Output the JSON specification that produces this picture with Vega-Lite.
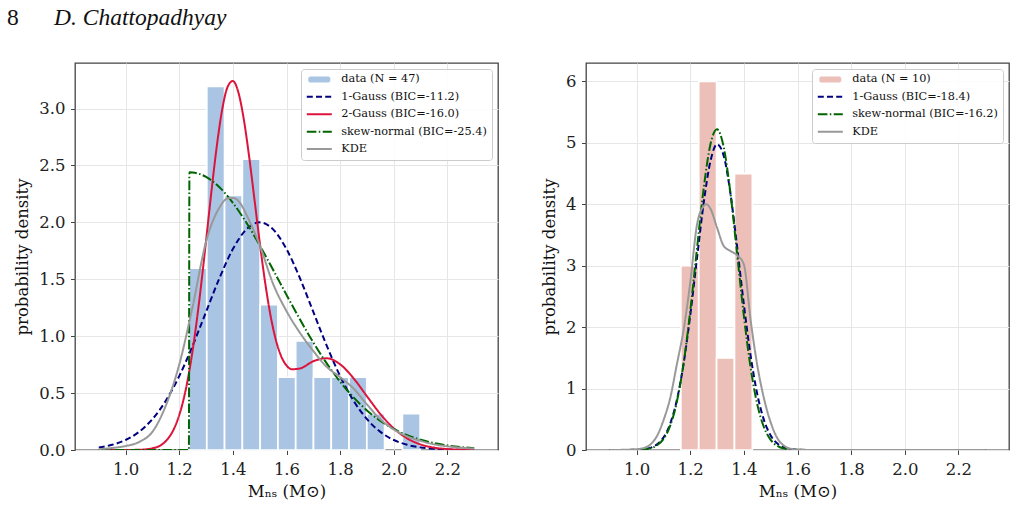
{
  "$schema": "https://vega.github.io/schema/vega-lite/v6.json",
  "background": "white",
  "padding": {"left": 7, "top": 4, "right": 5, "bottom": 5},
  "title": {
    "text": "8",
    "anchor": "start",
    "frame": "bounds",
    "font": "Liberation Serif",
    "fontSize": 23.5,
    "fontWeight": "normal",
    "color": "#111111",
    "baseline": "alphabetic",
    "dx": -7,
    "offset": -44
  },
  "resolve": {
    "scale": {"color": "independent", "strokeDash": "independent", "shape": "independent", "x": "independent", "y": "independent"},
    "legend": {"color": "independent", "strokeDash": "independent", "shape": "independent"}
  },
  "datasets": {
    "left_bins": [
      {"series": "data (N = 47)", "bin_start": 1.2365, "bin_end": 1.3028, "density": 1.598},
      {"series": "data (N = 47)", "bin_start": 1.3028, "bin_end": 1.3691, "density": 3.195},
      {"series": "data (N = 47)", "bin_start": 1.3691, "bin_end": 1.4354, "density": 2.237},
      {"series": "data (N = 47)", "bin_start": 1.4354, "bin_end": 1.5017, "density": 2.556},
      {"series": "data (N = 47)", "bin_start": 1.5017, "bin_end": 1.568, "density": 1.278},
      {"series": "data (N = 47)", "bin_start": 1.568, "bin_end": 1.6343, "density": 0.639},
      {"series": "data (N = 47)", "bin_start": 1.6343, "bin_end": 1.7006, "density": 0.959},
      {"series": "data (N = 47)", "bin_start": 1.7006, "bin_end": 1.7669, "density": 0.639},
      {"series": "data (N = 47)", "bin_start": 1.7669, "bin_end": 1.8332, "density": 0.639},
      {"series": "data (N = 47)", "bin_start": 1.8332, "bin_end": 1.8995, "density": 0.639},
      {"series": "data (N = 47)", "bin_start": 1.8995, "bin_end": 1.9658, "density": 0.32},
      {"series": "data (N = 47)", "bin_start": 2.0321, "bin_end": 2.0984, "density": 0.32}
    ],
    "left_curves": [
      {"series": "1-Gauss (BIC=-11.2)", "m": 0.9, "density": 0.0222},
      {"series": "1-Gauss (BIC=-11.2)", "m": 0.95, "density": 0.0456},
      {"series": "1-Gauss (BIC=-11.2)", "m": 1.0, "density": 0.0879},
      {"series": "1-Gauss (BIC=-11.2)", "m": 1.05, "density": 0.159},
      {"series": "1-Gauss (BIC=-11.2)", "m": 1.1, "density": 0.271},
      {"series": "1-Gauss (BIC=-11.2)", "m": 1.15, "density": 0.433},
      {"series": "1-Gauss (BIC=-11.2)", "m": 1.2, "density": 0.649},
      {"series": "1-Gauss (BIC=-11.2)", "m": 1.25, "density": 0.916},
      {"series": "1-Gauss (BIC=-11.2)", "m": 1.3, "density": 1.213},
      {"series": "1-Gauss (BIC=-11.2)", "m": 1.35, "density": 1.51},
      {"series": "1-Gauss (BIC=-11.2)", "m": 1.4, "density": 1.765},
      {"series": "1-Gauss (BIC=-11.2)", "m": 1.45, "density": 1.938},
      {"series": "1-Gauss (BIC=-11.2)", "m": 1.5, "density": 2.0},
      {"series": "1-Gauss (BIC=-11.2)", "m": 1.55, "density": 1.938},
      {"series": "1-Gauss (BIC=-11.2)", "m": 1.6, "density": 1.765},
      {"series": "1-Gauss (BIC=-11.2)", "m": 1.65, "density": 1.51},
      {"series": "1-Gauss (BIC=-11.2)", "m": 1.7, "density": 1.213},
      {"series": "1-Gauss (BIC=-11.2)", "m": 1.75, "density": 0.916},
      {"series": "1-Gauss (BIC=-11.2)", "m": 1.8, "density": 0.649},
      {"series": "1-Gauss (BIC=-11.2)", "m": 1.85, "density": 0.433},
      {"series": "1-Gauss (BIC=-11.2)", "m": 1.9, "density": 0.271},
      {"series": "1-Gauss (BIC=-11.2)", "m": 1.95, "density": 0.159},
      {"series": "1-Gauss (BIC=-11.2)", "m": 2.0, "density": 0.0879},
      {"series": "1-Gauss (BIC=-11.2)", "m": 2.05, "density": 0.0456},
      {"series": "1-Gauss (BIC=-11.2)", "m": 2.1, "density": 0.0222},
      {"series": "1-Gauss (BIC=-11.2)", "m": 2.15, "density": 0.0102},
      {"series": "1-Gauss (BIC=-11.2)", "m": 2.2, "density": 0.0044},
      {"series": "1-Gauss (BIC=-11.2)", "m": 2.25, "density": 0.0018},
      {"series": "1-Gauss (BIC=-11.2)", "m": 2.3, "density": 0.0007},

      {"series": "2-Gauss (BIC=-16.0)", "m": 0.9, "density": 0.0},
      {"series": "2-Gauss (BIC=-16.0)", "m": 0.95, "density": 0.0},
      {"series": "2-Gauss (BIC=-16.0)", "m": 1.0, "density": 0.0002},
      {"series": "2-Gauss (BIC=-16.0)", "m": 1.05, "density": 0.0021},
      {"series": "2-Gauss (BIC=-16.0)", "m": 1.1, "density": 0.0149},
      {"series": "2-Gauss (BIC=-16.0)", "m": 1.15, "density": 0.0788},
      {"series": "2-Gauss (BIC=-16.0)", "m": 1.18, "density": 0.1845},
      {"series": "2-Gauss (BIC=-16.0)", "m": 1.2, "density": 0.3063},
      {"series": "2-Gauss (BIC=-16.0)", "m": 1.22, "density": 0.4836},
      {"series": "2-Gauss (BIC=-16.0)", "m": 1.24, "density": 0.7266},
      {"series": "2-Gauss (BIC=-16.0)", "m": 1.26, "density": 1.0401},
      {"series": "2-Gauss (BIC=-16.0)", "m": 1.28, "density": 1.4166},
      {"series": "2-Gauss (BIC=-16.0)", "m": 1.3, "density": 1.837},
      {"series": "2-Gauss (BIC=-16.0)", "m": 1.32, "density": 2.2693},
      {"series": "2-Gauss (BIC=-16.0)", "m": 1.34, "density": 2.668},
      {"series": "2-Gauss (BIC=-16.0)", "m": 1.36, "density": 2.9883},
      {"series": "2-Gauss (BIC=-16.0)", "m": 1.38, "density": 3.188},
      {"series": "2-Gauss (BIC=-16.0)", "m": 1.4, "density": 3.2421},
      {"series": "2-Gauss (BIC=-16.0)", "m": 1.42, "density": 3.1465},
      {"series": "2-Gauss (BIC=-16.0)", "m": 1.44, "density": 2.9166},
      {"series": "2-Gauss (BIC=-16.0)", "m": 1.46, "density": 2.5896},
      {"series": "2-Gauss (BIC=-16.0)", "m": 1.48, "density": 2.2114},
      {"series": "2-Gauss (BIC=-16.0)", "m": 1.5, "density": 1.8268},
      {"series": "2-Gauss (BIC=-16.0)", "m": 1.52, "density": 1.4771},
      {"series": "2-Gauss (BIC=-16.0)", "m": 1.54, "density": 1.1875},
      {"series": "2-Gauss (BIC=-16.0)", "m": 1.56, "density": 0.9698},
      {"series": "2-Gauss (BIC=-16.0)", "m": 1.58, "density": 0.8247},
      {"series": "2-Gauss (BIC=-16.0)", "m": 1.6, "density": 0.7426},
      {"series": "2-Gauss (BIC=-16.0)", "m": 1.62, "density": 0.7091},
      {"series": "2-Gauss (BIC=-16.0)", "m": 1.65, "density": 0.7163},
      {"series": "2-Gauss (BIC=-16.0)", "m": 1.7, "density": 0.7799},
      {"series": "2-Gauss (BIC=-16.0)", "m": 1.75, "density": 0.8059},
      {"series": "2-Gauss (BIC=-16.0)", "m": 1.8, "density": 0.7527},
      {"series": "2-Gauss (BIC=-16.0)", "m": 1.85, "density": 0.6301},
      {"series": "2-Gauss (BIC=-16.0)", "m": 1.9, "density": 0.472},
      {"series": "2-Gauss (BIC=-16.0)", "m": 1.95, "density": 0.3164},
      {"series": "2-Gauss (BIC=-16.0)", "m": 2.0, "density": 0.1898},
      {"series": "2-Gauss (BIC=-16.0)", "m": 2.05, "density": 0.1019},
      {"series": "2-Gauss (BIC=-16.0)", "m": 2.1, "density": 0.0489},
      {"series": "2-Gauss (BIC=-16.0)", "m": 2.15, "density": 0.021},
      {"series": "2-Gauss (BIC=-16.0)", "m": 2.2, "density": 0.0081},
      {"series": "2-Gauss (BIC=-16.0)", "m": 2.25, "density": 0.0028},
      {"series": "2-Gauss (BIC=-16.0)", "m": 2.3, "density": 0.0009},

      {"series": "skew-normal (BIC=-25.4)", "m": 0.9, "density": 0.0},
      {"series": "skew-normal (BIC=-25.4)", "m": 1.0, "density": 0.0},
      {"series": "skew-normal (BIC=-25.4)", "m": 1.1, "density": 0.0},
      {"series": "skew-normal (BIC=-25.4)", "m": 1.2, "density": 0.0},
      {"series": "skew-normal (BIC=-25.4)", "m": 1.236, "density": 0.0},
      {"series": "skew-normal (BIC=-25.4)", "m": 1.238, "density": 2.44},
      {"series": "skew-normal (BIC=-25.4)", "m": 1.25, "density": 2.438},
      {"series": "skew-normal (BIC=-25.4)", "m": 1.3, "density": 2.399},
      {"series": "skew-normal (BIC=-25.4)", "m": 1.35, "density": 2.308},
      {"series": "skew-normal (BIC=-25.4)", "m": 1.4, "density": 2.171},
      {"series": "skew-normal (BIC=-25.4)", "m": 1.45, "density": 1.998},
      {"series": "skew-normal (BIC=-25.4)", "m": 1.5, "density": 1.799},
      {"series": "skew-normal (BIC=-25.4)", "m": 1.55, "density": 1.583},
      {"series": "skew-normal (BIC=-25.4)", "m": 1.6, "density": 1.363},
      {"series": "skew-normal (BIC=-25.4)", "m": 1.65, "density": 1.148},
      {"series": "skew-normal (BIC=-25.4)", "m": 1.7, "density": 0.945},
      {"series": "skew-normal (BIC=-25.4)", "m": 1.75, "density": 0.761},
      {"series": "skew-normal (BIC=-25.4)", "m": 1.8, "density": 0.6},
      {"series": "skew-normal (BIC=-25.4)", "m": 1.85, "density": 0.462},
      {"series": "skew-normal (BIC=-25.4)", "m": 1.9, "density": 0.348},
      {"series": "skew-normal (BIC=-25.4)", "m": 1.95, "density": 0.256},
      {"series": "skew-normal (BIC=-25.4)", "m": 2.0, "density": 0.185},
      {"series": "skew-normal (BIC=-25.4)", "m": 2.05, "density": 0.13},
      {"series": "skew-normal (BIC=-25.4)", "m": 2.1, "density": 0.0898},
      {"series": "skew-normal (BIC=-25.4)", "m": 2.15, "density": 0.0605},
      {"series": "skew-normal (BIC=-25.4)", "m": 2.2, "density": 0.0399},
      {"series": "skew-normal (BIC=-25.4)", "m": 2.25, "density": 0.0257},
      {"series": "skew-normal (BIC=-25.4)", "m": 2.3, "density": 0.0162},

      {"series": "KDE", "m": 0.9, "density": 0.008},
      {"series": "KDE", "m": 0.95, "density": 0.018},
      {"series": "KDE", "m": 1.0, "density": 0.035},
      {"series": "KDE", "m": 1.05, "density": 0.07},
      {"series": "KDE", "m": 1.1, "density": 0.16},
      {"series": "KDE", "m": 1.15, "density": 0.39},
      {"series": "KDE", "m": 1.2, "density": 0.75},
      {"series": "KDE", "m": 1.25, "density": 1.26},
      {"series": "KDE", "m": 1.3, "density": 1.83},
      {"series": "KDE", "m": 1.35, "density": 2.13},
      {"series": "KDE", "m": 1.38, "density": 2.21},
      {"series": "KDE", "m": 1.4, "density": 2.215},
      {"series": "KDE", "m": 1.43, "density": 2.16},
      {"series": "KDE", "m": 1.45, "density": 2.07},
      {"series": "KDE", "m": 1.5, "density": 1.8},
      {"series": "KDE", "m": 1.55, "density": 1.46},
      {"series": "KDE", "m": 1.6, "density": 1.22},
      {"series": "KDE", "m": 1.65, "density": 1.03},
      {"series": "KDE", "m": 1.7, "density": 0.87},
      {"series": "KDE", "m": 1.75, "density": 0.73},
      {"series": "KDE", "m": 1.8, "density": 0.64},
      {"series": "KDE", "m": 1.85, "density": 0.54},
      {"series": "KDE", "m": 1.9, "density": 0.4},
      {"series": "KDE", "m": 1.95, "density": 0.27},
      {"series": "KDE", "m": 2.0, "density": 0.18},
      {"series": "KDE", "m": 2.05, "density": 0.12},
      {"series": "KDE", "m": 2.1, "density": 0.08},
      {"series": "KDE", "m": 2.15, "density": 0.05},
      {"series": "KDE", "m": 2.2, "density": 0.032},
      {"series": "KDE", "m": 2.25, "density": 0.02},
      {"series": "KDE", "m": 2.3, "density": 0.012}
    ],
    "right_bins": [
      {"series": "data (N = 10)", "bin_start": 1.165, "bin_end": 1.2317, "density": 3.0},
      {"series": "data (N = 10)", "bin_start": 1.2317, "bin_end": 1.2983, "density": 6.0},
      {"series": "data (N = 10)", "bin_start": 1.2983, "bin_end": 1.365, "density": 1.5},
      {"series": "data (N = 10)", "bin_start": 1.365, "bin_end": 1.4317, "density": 4.5}
    ],
    "right_curves": [
      {"series": "1-Gauss (BIC=-18.4)", "m": 0.9, "density": 0.0},
      {"series": "1-Gauss (BIC=-18.4)", "m": 1.0, "density": 0.0039},
      {"series": "1-Gauss (BIC=-18.4)", "m": 1.05, "density": 0.0342},
      {"series": "1-Gauss (BIC=-18.4)", "m": 1.075, "density": 0.0873},
      {"series": "1-Gauss (BIC=-18.4)", "m": 1.1, "density": 0.2021},
      {"series": "1-Gauss (BIC=-18.4)", "m": 1.125, "density": 0.4249},
      {"series": "1-Gauss (BIC=-18.4)", "m": 1.15, "density": 0.8092},
      {"series": "1-Gauss (BIC=-18.4)", "m": 1.175, "density": 1.398},
      {"series": "1-Gauss (BIC=-18.4)", "m": 1.2, "density": 2.192},
      {"series": "1-Gauss (BIC=-18.4)", "m": 1.225, "density": 3.115},
      {"series": "1-Gauss (BIC=-18.4)", "m": 1.25, "density": 4.015},
      {"series": "1-Gauss (BIC=-18.4)", "m": 1.275, "density": 4.694},
      {"series": "1-Gauss (BIC=-18.4)", "m": 1.3, "density": 4.977},
      {"series": "1-Gauss (BIC=-18.4)", "m": 1.325, "density": 4.787},
      {"series": "1-Gauss (BIC=-18.4)", "m": 1.35, "density": 4.175},
      {"series": "1-Gauss (BIC=-18.4)", "m": 1.375, "density": 3.303},
      {"series": "1-Gauss (BIC=-18.4)", "m": 1.4, "density": 2.37},
      {"series": "1-Gauss (BIC=-18.4)", "m": 1.425, "density": 1.542},
      {"series": "1-Gauss (BIC=-18.4)", "m": 1.45, "density": 0.91},
      {"series": "1-Gauss (BIC=-18.4)", "m": 1.475, "density": 0.487},
      {"series": "1-Gauss (BIC=-18.4)", "m": 1.5, "density": 0.2365},
      {"series": "1-Gauss (BIC=-18.4)", "m": 1.525, "density": 0.1041},
      {"series": "1-Gauss (BIC=-18.4)", "m": 1.55, "density": 0.0416},
      {"series": "1-Gauss (BIC=-18.4)", "m": 1.6, "density": 0.005},
      {"series": "1-Gauss (BIC=-18.4)", "m": 1.65, "density": 0.0004},
      {"series": "1-Gauss (BIC=-18.4)", "m": 1.7, "density": 0.0},
      {"series": "1-Gauss (BIC=-18.4)", "m": 2.3, "density": 0.0},

      {"series": "skew-normal (BIC=-16.2)", "m": 0.9, "density": 0.0},
      {"series": "skew-normal (BIC=-16.2)", "m": 1.0, "density": 0.0025},
      {"series": "skew-normal (BIC=-16.2)", "m": 1.05, "density": 0.0261},
      {"series": "skew-normal (BIC=-16.2)", "m": 1.075, "density": 0.0716},
      {"series": "skew-normal (BIC=-16.2)", "m": 1.1, "density": 0.1769},
      {"series": "skew-normal (BIC=-16.2)", "m": 1.125, "density": 0.3924},
      {"series": "skew-normal (BIC=-16.2)", "m": 1.15, "density": 0.7826},
      {"series": "skew-normal (BIC=-16.2)", "m": 1.175, "density": 1.403},
      {"series": "skew-normal (BIC=-16.2)", "m": 1.2, "density": 2.259},
      {"series": "skew-normal (BIC=-16.2)", "m": 1.225, "density": 3.269},
      {"series": "skew-normal (BIC=-16.2)", "m": 1.25, "density": 4.252},
      {"series": "skew-normal (BIC=-16.2)", "m": 1.275, "density": 4.969},
      {"series": "skew-normal (BIC=-16.2)", "m": 1.3, "density": 5.22},
      {"series": "skew-normal (BIC=-16.2)", "m": 1.325, "density": 4.927},
      {"series": "skew-normal (BIC=-16.2)", "m": 1.35, "density": 4.18},
      {"series": "skew-normal (BIC=-16.2)", "m": 1.375, "density": 3.186},
      {"series": "skew-normal (BIC=-16.2)", "m": 1.4, "density": 2.183},
      {"series": "skew-normal (BIC=-16.2)", "m": 1.425, "density": 1.344},
      {"series": "skew-normal (BIC=-16.2)", "m": 1.45, "density": 0.743},
      {"series": "skew-normal (BIC=-16.2)", "m": 1.475, "density": 0.37},
      {"series": "skew-normal (BIC=-16.2)", "m": 1.5, "density": 0.165},
      {"series": "skew-normal (BIC=-16.2)", "m": 1.525, "density": 0.0663},
      {"series": "skew-normal (BIC=-16.2)", "m": 1.55, "density": 0.024},
      {"series": "skew-normal (BIC=-16.2)", "m": 1.6, "density": 0.0023},
      {"series": "skew-normal (BIC=-16.2)", "m": 1.65, "density": 0.0},
      {"series": "skew-normal (BIC=-16.2)", "m": 2.3, "density": 0.0},

      {"series": "KDE", "m": 0.9, "density": 0.0},
      {"series": "KDE", "m": 0.95, "density": 0.003},
      {"series": "KDE", "m": 1.0, "density": 0.012},
      {"series": "KDE", "m": 1.025, "density": 0.03},
      {"series": "KDE", "m": 1.05, "density": 0.085},
      {"series": "KDE", "m": 1.075, "density": 0.22},
      {"series": "KDE", "m": 1.1, "density": 0.48},
      {"series": "KDE", "m": 1.125, "density": 0.84},
      {"series": "KDE", "m": 1.15, "density": 1.39},
      {"series": "KDE", "m": 1.175, "density": 1.95},
      {"series": "KDE", "m": 1.2, "density": 2.72},
      {"series": "KDE", "m": 1.225, "density": 3.66},
      {"series": "KDE", "m": 1.25, "density": 3.97},
      {"series": "KDE", "m": 1.26, "density": 4.0},
      {"series": "KDE", "m": 1.275, "density": 3.93},
      {"series": "KDE", "m": 1.3, "density": 3.62},
      {"series": "KDE", "m": 1.325, "density": 3.32},
      {"series": "KDE", "m": 1.35, "density": 3.24},
      {"series": "KDE", "m": 1.375, "density": 3.17},
      {"series": "KDE", "m": 1.4, "density": 3.02},
      {"series": "KDE", "m": 1.425, "density": 2.12},
      {"series": "KDE", "m": 1.45, "density": 1.38},
      {"series": "KDE", "m": 1.475, "density": 0.84},
      {"series": "KDE", "m": 1.5, "density": 0.45},
      {"series": "KDE", "m": 1.525, "density": 0.19},
      {"series": "KDE", "m": 1.55, "density": 0.07},
      {"series": "KDE", "m": 1.575, "density": 0.02},
      {"series": "KDE", "m": 1.6, "density": 0.006},
      {"series": "KDE", "m": 1.65, "density": 0.001},
      {"series": "KDE", "m": 1.7, "density": 0.0},
      {"series": "KDE", "m": 2.3, "density": 0.0}
    ]
  },
  "spacing": 41,
  "hconcat": [
    {
      "width": 423,
      "height": 387,
      "title": {
        "text": "D. Chattopadhyay",
        "anchor": "start",
        "frame": "group",
        "font": "Liberation Serif",
        "fontStyle": "italic",
        "fontSize": 23.5,
        "fontWeight": "normal",
        "color": "#111111",
        "baseline": "alphabetic",
        "dx": -21,
        "offset": 15
      },
      "layer": [
        {
          "data": {"name": "left_bins"},
          "mark": {"type": "bar", "stroke": "white", "strokeWidth": 1.7, "opacity": 1, "orient": "vertical"},
          "encoding": {
            "x": {
              "field": "bin_start", "type": "quantitative",
              "scale": {"domain": [0.83, 2.37], "nice": false, "zero": false},
              "axis": {"values": [1.0, 1.2, 1.4, 1.6, 1.8, 2.0, 2.2], "format": ".1f", "title": "Mₙₛ (M⊙)", "titlePadding": 5, "labelPadding": 7}
            },
            "x2": {"field": "bin_end"},
            "y": {
              "field": "density", "type": "quantitative",
              "scale": {"domain": [0, 3.4], "nice": false},
              "axis": {"values": [0, 0.5, 1, 1.5, 2, 2.5, 3], "format": ".1f", "title": "probability density", "titlePadding": 8, "labelPadding": 5.5}
            },
            "y2": {"datum": 0},
            "color": {
              "field": "series", "type": "nominal", "title": null,
              "scale": {
                "domain": ["data (N = 47)", "1-Gauss (BIC=-11.2)", "2-Gauss (BIC=-16.0)", "skew-normal (BIC=-25.4)", "KDE"],
                "range": ["#aac5e4", "#000080", "#dc143c", "#006400", "#999999"]
              }
            }
          }
        },
        {
          "data": {"name": "left_curves"},
          "mark": {"type": "line", "strokeWidth": 2, "interpolate": "monotone", "clip": true},
          "encoding": {
            "x": {"field": "m", "type": "quantitative"},
            "y": {"field": "density", "type": "quantitative"},
            "color": {"field": "series", "type": "nominal", "title": null},
            "strokeDash": {
              "field": "series", "type": "nominal", "title": null,
              "scale": {
                "domain": ["data (N = 47)", "1-Gauss (BIC=-11.2)", "2-Gauss (BIC=-16.0)", "skew-normal (BIC=-25.4)", "KDE"],
                "range": [[1, 0], [6, 3.2], [1, 0], [9.6, 2.4, 1.5, 2.4], [1, 0]]
              }
            }
          }
        },
        {
          "data": {"name": "left_curves"},
          "mark": {"type": "point", "opacity": 0},
          "encoding": {
            "x": {"field": "m", "type": "quantitative"},
            "y": {"field": "density", "type": "quantitative"},
            "color": {"field": "series", "type": "nominal", "title": null},
            "shape": {
              "field": "series", "type": "nominal", "title": null,
              "scale": {
                "domain": ["data (N = 47)", "1-Gauss (BIC=-11.2)", "2-Gauss (BIC=-16.0)", "skew-normal (BIC=-25.4)", "KDE"],
                "range": ["M-0.8,-0.16H0.8V0.16H-0.8Z", "stroke", "stroke", "stroke", "stroke"]
              }
            }
          }
        },
        {
          "mark": {"type": "rule", "color": "#999999", "strokeDash": [1.5, 2.5], "strokeWidth": 1.5},
          "encoding": {"x": {"datum": 1.4}}
        },
        {
          "mark": {"type": "text", "font": "DejaVu Serif", "fontWeight": "bold", "fontSize": 12.8, "align": "left", "baseline": "alphabetic", "color": "#111111"},
          "encoding": {
            "x": {"datum": 0.875},
            "y": {"datum": 3.196},
            "text": {"value": "recycled primaries"}
          }
        }
      ]
    },
    {
      "width": 423,
      "height": 387,
      "layer": [
        {
          "data": {"name": "right_bins"},
          "mark": {"type": "bar", "stroke": "white", "strokeWidth": 1.7, "opacity": 1, "orient": "vertical"},
          "encoding": {
            "x": {
              "field": "bin_start", "type": "quantitative",
              "scale": {"domain": [0.83, 2.37], "nice": false, "zero": false},
              "axis": {"values": [1.0, 1.2, 1.4, 1.6, 1.8, 2.0, 2.2], "format": ".1f", "title": "Mₙₛ (M⊙)", "titlePadding": 5, "labelPadding": 7}
            },
            "x2": {"field": "bin_end"},
            "y": {
              "field": "density", "type": "quantitative",
              "scale": {"domain": [0, 6.3], "nice": false},
              "axis": {"values": [0, 1, 2, 3, 4, 5, 6], "format": "d", "title": "probability density", "titlePadding": 8, "labelPadding": 5.5}
            },
            "y2": {"datum": 0},
            "color": {
              "field": "series", "type": "nominal", "title": null,
              "scale": {
                "domain": ["data (N = 10)", "1-Gauss (BIC=-18.4)", "skew-normal (BIC=-16.2)", "KDE"],
                "range": ["#ecc0b8", "#000080", "#006400", "#999999"]
              }
            }
          }
        },
        {
          "data": {"name": "right_curves"},
          "mark": {"type": "line", "strokeWidth": 2, "interpolate": "monotone", "clip": true},
          "encoding": {
            "x": {"field": "m", "type": "quantitative"},
            "y": {"field": "density", "type": "quantitative"},
            "color": {"field": "series", "type": "nominal", "title": null},
            "strokeDash": {
              "field": "series", "type": "nominal", "title": null,
              "scale": {
                "domain": ["data (N = 10)", "1-Gauss (BIC=-18.4)", "skew-normal (BIC=-16.2)", "KDE"],
                "range": [[1, 0], [6, 3.2], [9.6, 2.4, 1.5, 2.4], [1, 0]]
              }
            }
          }
        },
        {
          "data": {"name": "right_curves"},
          "mark": {"type": "point", "opacity": 0},
          "encoding": {
            "x": {"field": "m", "type": "quantitative"},
            "y": {"field": "density", "type": "quantitative"},
            "color": {"field": "series", "type": "nominal", "title": null},
            "shape": {
              "field": "series", "type": "nominal", "title": null,
              "scale": {
                "domain": ["data (N = 10)", "1-Gauss (BIC=-18.4)", "skew-normal (BIC=-16.2)", "KDE"],
                "range": ["M-0.8,-0.16H0.8V0.16H-0.8Z", "stroke", "stroke", "stroke"]
              }
            }
          }
        },
        {
          "mark": {"type": "rule", "color": "#999999", "strokeDash": [1.5, 2.5], "strokeWidth": 1.5},
          "encoding": {"x": {"datum": 1.4}}
        },
        {
          "mark": {"type": "text", "font": "DejaVu Serif", "fontWeight": "bold", "fontSize": 12.8, "align": "left", "baseline": "alphabetic", "color": "#111111"},
          "encoding": {
            "x": {"datum": 0.875},
            "y": {"datum": 5.94},
            "text": {"value": "non-recycled secondaries"}
          }
        }
      ]
    }
  ],
  "config": {
    "view": {"stroke": "#444444", "strokeWidth": 1.3},
    "axis": {
      "labelFont": "DejaVu Serif",
      "labelFontSize": 16.5,
      "labelColor": "#222222",
      "titleFont": "DejaVu Serif",
      "titleFontSize": 16.5,
      "titleFontWeight": "normal",
      "titleColor": "#111111",
      "domain": false,
      "tickColor": "#444444",
      "tickSize": 4.5,
      "tickWidth": 1,
      "grid": true,
      "gridColor": "#e6e6e6",
      "gridWidth": 1
    },
    "legend": {
      "orient": "top-right",
      "offset": 6,
      "padding": 4.8,
      "rowPadding": 4.4,
      "clipHeight": 11.3,
      "fillColor": "rgba(255,255,255,0.85)",
      "strokeColor": "#cccccc",
      "cornerRadius": 3,
      "labelFont": "DejaVu Serif",
      "labelFontSize": 11.3,
      "labelColor": "#111111",
      "labelOffset": 8.4,
      "labelLimit": 300,
      "symbolSize": 625,
      "symbolStrokeWidth": 2,
      "symbolOpacity": 1
    }
  }
}
